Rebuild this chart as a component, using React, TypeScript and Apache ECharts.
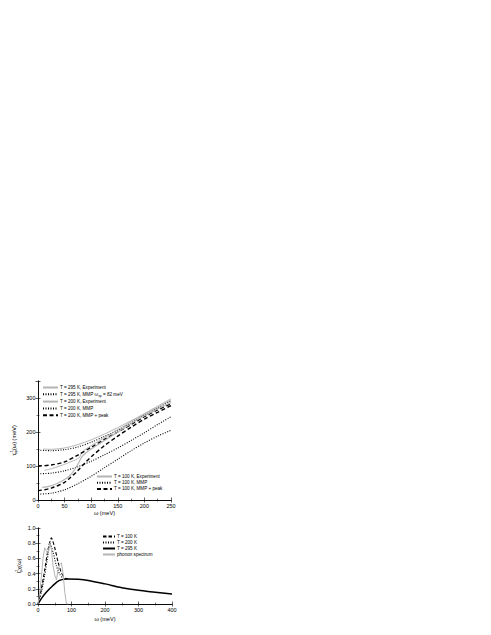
import { useEffect, useRef } from 'react';
import * as echarts from 'echarts';

// top panel: 1/tau (meV) vs omega (meV)
const exp295 = [[10, 150], [25, 149], [50, 153], [75, 163], [100, 177], [125, 194], [150, 213], [175, 233], [200, 254], [225, 276], [250, 298]];
const mmp295 = [[0, 147], [25, 145], [50, 148], [75, 156], [100, 170], [125, 187], [150, 206], [175, 227], [200, 250], [225, 271], [250, 292]];
const exp200 = [[12, 87], [25, 92], [50, 105], [70, 118], [78, 125], [82, 140], [90, 150], [100, 160], [125, 183], [150, 207], [175, 230], [200, 252], [225, 273], [250, 295]];
const mmp200 = [[0, 77], [25, 79], [50, 86], [75, 98], [100, 114], [125, 133], [150, 153], [175, 175], [200, 198], [225, 222], [250, 245]];
const peak200 = [[0, 100], [25, 103], [50, 112], [75, 132], [100, 155], [125, 178], [150, 200], [175, 222], [200, 245], [225, 265], [250, 283]];
const exp100 = [[8, 37], [20, 40], [35, 48], [50, 60], [60, 72], [70, 92], [76, 108], [82, 126], [90, 138], [100, 150], [125, 175], [150, 200], [175, 225], [200, 248], [225, 268], [250, 287]];
const mmp100 = [[0, 17], [25, 20], [50, 30], [75, 48], [100, 70], [125, 95], [150, 120], [175, 145], [200, 168], [225, 188], [250, 205]];
const peak100 = [[0, 27], [25, 35], [50, 52], [60, 65], [75, 87], [90, 112], [100, 127], [125, 160], [150, 188], [175, 214], [200, 238], [225, 258], [250, 278]];

// bottom panel: boson spectral function
const bos100 = [[0, 0], [10, 0.2], [20, 0.45], [30, 0.72], [40, 0.87], [50, 0.74], [60, 0.55], [70, 0.41], [80, 0.34], [90, 0.33]];
const bos200 = [[0, 0], [10, 0.15], [20, 0.38], [30, 0.65], [35, 0.8], [45, 0.68], [55, 0.5], [65, 0.39], [75, 0.34], [90, 0.33]];
const bos295 = [[0, 0], [10, 0.07], [24, 0.15], [44, 0.24], [64, 0.31], [88, 0.33], [120, 0.325], [150, 0.31], [200, 0.265], [250, 0.215], [300, 0.18], [350, 0.155], [400, 0.13]];
const phonon = [[0, 0], [5, 0.15], [10, 0.35], [15, 0.6], [20, 0.74], [25, 0.7], [30, 0.66], [35, 0.8], [40, 0.72], [45, 0.5], [50, 0.38], [55, 0.32], [60, 0.45], [65, 0.52], [70, 0.54], [75, 0.4], [80, 0.15], [85, 0], [90, 0]];

const FONT = 'Arial, "Liberation Sans", sans-serif';
const GRAY = '#b4b4b4';
const DOT = [1, 1.5];
const DASH = [4, 2.5];

function axisBase(min: number, max: number, interval: number, labels: boolean) {
  return {
    type: 'value' as const,
    min,
    max,
    interval,
    axisLine: { show: true, lineStyle: { color: '#000', width: 0.8 } },
    axisTick: { show: true, inside: true, length: 2.5, lineStyle: { color: '#000', width: 0.6 } },
    minorTick: { show: true, splitNumber: 2, length: 1.5, lineStyle: { color: '#000', width: 0.5 } },
    splitLine: { show: false },
    axisLabel: { show: labels, fontSize: 5.5, color: '#000', fontFamily: FONT, margin: 2.5, showMaxLabel: false },
  };
}

export default function App() {
  const ref = useRef<HTMLDivElement>(null);

  useEffect(() => {
    if (!ref.current) return;
    const chart = echarts.init(ref.current, null, { renderer: 'svg' });

    const line = (name: string, data: number[][], color: string, width: number, type: any, xi: number, smooth = 0.3) => ({
      name,
      type: 'line',
      data,
      xAxisIndex: xi,
      yAxisIndex: xi,
      symbol: 'none',
      smooth,
      lineStyle: { color, width, type },
      itemStyle: { color },
    });

    const legendStyle = {
      orient: 'vertical' as const,
      itemWidth: 15,
      itemHeight: 6,
      itemGap: 1.8,
      padding: 0,
      itemStyle: { opacity: 0 },
      textStyle: {
        fontSize: 4.6,
        color: '#000',
        fontFamily: FONT,
        padding: [0, 0, 0, -3],
        rich: { sub: { fontSize: 3.4, padding: [3, 0, 0, 0], fontFamily: FONT } },
      },
      formatter: (n: string) => n.replace('ωsp', 'ω{sub|sp}'),
    };

    chart.setOption({
      animation: false,
      grid: [
        { left: 38, top: 381, width: 133, height: 119, show: false },
        { left: 38, top: 528, width: 134, height: 76, show: false },
      ],
      xAxis: [
        {
          ...axisBase(0, 250, 50, true),
          gridIndex: 0,
          position: 'bottom',
          name: 'ω (meV)',
          nameLocation: 'middle',
          nameGap: 10,
          nameTextStyle: { fontSize: 5.6, fontFamily: FONT, color: '#000' },
          axisLabel: { ...axisBase(0, 250, 50, true).axisLabel, showMaxLabel: true },
        },
        { ...axisBase(0, 250, 50, false), gridIndex: 0, position: 'top' },
        {
          ...axisBase(0, 400, 100, true),
          gridIndex: 1,
          position: 'bottom',
          name: 'ω (meV)',
          nameLocation: 'middle',
          nameGap: 12,
          nameTextStyle: { fontSize: 5.6, fontFamily: FONT, color: '#000' },
          axisLabel: { ...axisBase(0, 400, 100, true).axisLabel, showMaxLabel: true },
        },
        { ...axisBase(0, 400, 100, false), gridIndex: 1, position: 'top' },
      ],
      yAxis: [
        {
          ...axisBase(0, 350, 100, true),
          gridIndex: 0,
          position: 'left',
          name: '{t|τ}{sup|-1}{sub|op}{t|(ω) (meV)}',
          nameLocation: 'middle',
          nameGap: 20,
          nameTextStyle: {
            fontSize: 5.6,
            fontFamily: FONT,
            color: '#000',
            rich: {
              t: { fontSize: 5.6, fontFamily: FONT },
              sup: { fontSize: 3.8, fontFamily: FONT, padding: [0, 0, 4, 0] },
              sub: { fontSize: 3.8, fontFamily: FONT, padding: [4, 0, 0, -4] },
            },
          },
        },
        { ...axisBase(0, 350, 100, false), gridIndex: 0, position: 'right' },
        {
          ...axisBase(0, 1, 0.2, true),
          gridIndex: 1,
          position: 'left',
          axisLabel: {
            ...axisBase(0, 1, 0.2, true).axisLabel,
            showMaxLabel: true,
            formatter: (v: number) => v.toFixed(1),
          },
          name: '{t|I}{sup|2}{sub|p}{t|χ(ω)}',
          nameLocation: 'middle',
          nameGap: 15,
          nameTextStyle: {
            fontSize: 5.6,
            fontFamily: FONT,
            color: '#000',
            rich: {
              t: { fontSize: 5.6, fontFamily: FONT },
              sup: { fontSize: 3.8, fontFamily: FONT, padding: [0, 0, 4, 0] },
              sub: { fontSize: 3.8, fontFamily: FONT, padding: [4, 0, 0, -2] },
            },
          },
        },
        { ...axisBase(0, 1, 0.2, false), gridIndex: 1, position: 'right' },
      ],
      legend: [
        {
          ...legendStyle,
          left: 42,
          top: 385,
          data: [
            'T = 295 K, Experiment',
            'T = 295 K, MMP ωsp = 82 meV',
            'T = 200 K, Experiment',
            'T = 200 K, MMP',
            'T = 200 K, MMP + peak',
          ],
        },
        {
          ...legendStyle,
          itemGap: 1.2,
          left: 96,
          top: 474,
          data: ['T = 100 K, Experiment', 'T = 100 K, MMP', 'T = 100 K, MMP + peak'],
        },
        {
          ...legendStyle,
          itemWidth: 12,
          itemGap: 1,
          left: 102,
          top: 534,
          data: ['T = 100 K', 'T = 200 K', 'T = 295 K', 'phonon spectrum'],
        },
      ],
      series: [
        line('T = 295 K, Experiment', exp295, GRAY, 1, 'solid', 0),
        line('T = 295 K, MMP ωsp = 82 meV', mmp295, '#000', 1.1, DOT, 0),
        line('T = 200 K, Experiment', exp200, GRAY, 1, 'solid', 0, 0.15),
        line('T = 200 K, MMP', mmp200, '#000', 1.1, DOT, 0),
        line('T = 200 K, MMP + peak', peak200, '#000', 1.4, DASH, 0),
        line('T = 100 K, Experiment', exp100, GRAY, 1.2, 'solid', 0, 0.15),
        line('T = 100 K, MMP', mmp100, '#000', 1.1, DOT, 0),
        line('T = 100 K, MMP + peak', peak100, '#000', 1.4, DASH, 0),
        line('T = 100 K', bos100, '#000', 1.1, [3.5, 2], 2, 0.2),
        line('T = 200 K', bos200, '#000', 1.1, DOT, 2, 0.2),
        line('T = 295 K', bos295, '#000', 1.5, 'solid', 2),
        line('phonon spectrum', phonon, GRAY, 1, 'solid', 2, 0),
      ],
    });

    return () => chart.dispose();
  }, []);

  return <div ref={ref} style={{ position: 'absolute', left: 0, top: 0, width: 491, height: 635 }} />;
}
